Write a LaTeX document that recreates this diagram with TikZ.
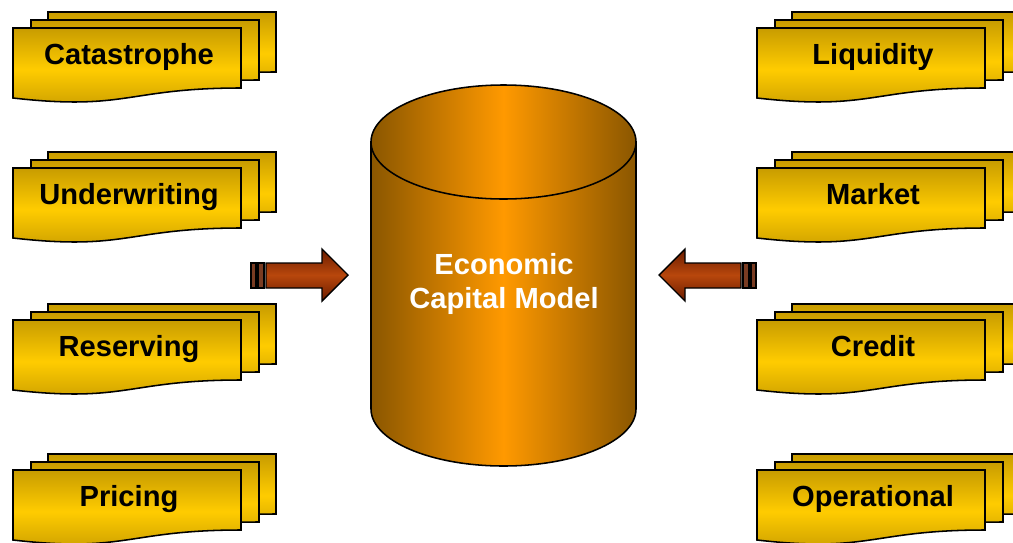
\documentclass[tikz,border=0pt]{standalone}
\usepackage{fontspec}
\setmainfont{Liberation Sans}
\definecolor{docgold}{HTML}{FFCC00}
\definecolor{docdark}{HTML}{C89C00}
\definecolor{cylorange}{HTML}{FF9900}
\definecolor{cylbrown}{HTML}{8A5600}
\definecolor{arrowrust}{HTML}{B8470C}
\definecolor{arrowdark}{HTML}{6A1C00}
\definecolor{barbrown}{HTML}{7A3C22}
\tikzset{
  docfill/.style={draw=black, line width=1.1pt, top color=docdark, bottom color=docdark, middle color=docgold},
  cylfill/.style={draw=black, line width=1.1pt, left color=cylbrown, right color=cylbrown, middle color=cylorange},
  arrowfill/.style={draw=black, line width=1pt, top color=arrowdark, bottom color=arrowdark, middle color=arrowrust},
  barfill/.style={draw=black, line width=1pt, fill=barbrown},
  risklabel/.style={font=\fontsize{20.7}{24}\selectfont\bfseries, anchor=base},
  ecmlabel/.style={font=\fontsize{20.7}{24.2}\selectfont\bfseries, text=white, align=center}
}
% one paper of the stack, top left corner at (#1,#2)
\newcommand{\riskpaper}[2]{
  \draw[docfill] (#1,#2) -- ({#1+228},#2) -- ({#1+228},{#2+60})
    .. controls ({#1+114},{#2+60}) and ({#1+114},{#2+83}) .. (#1,{#2+70}) -- cycle;
}
\begin{document}
\begin{tikzpicture}[x=0.025cm,y=-0.025cm]
\useasboundingbox (0,0) rectangle (1013,542);
\clip (0,0) rectangle (1013,542);

% stacks of papers
\foreach \x/\y/\name/\txt in {13/28/cat/Catastrophe, 13/168/uwr/Underwriting,
    13/320/res/Reserving, 13/470/pri/Pricing, 757/28/liq/Liquidity,
    757/168/mkt/Market, 757/320/cre/Credit, 757/470/ops/Operational}{
  \riskpaper{\x+35}{\y-16}
  \riskpaper{\x+18}{\y-8}
  \riskpaper{\x}{\y}
  \node[risklabel] (\name) at ({\x+116},{\y+36.5}) {\txt};
}

% the model
\draw[cylfill] (371,142) -- (371,409) arc[start angle=180, end angle=0, x radius=132.5, y radius=57] -- (636,142) -- cycle;
\draw[cylfill] (503.5,142) ellipse [x radius=132.5, y radius=57];
\node[ecmlabel] (ecm) at (504,284) {Economic\\Capital Model};

% block arrows
\draw[barfill] (251,263) rectangle (256,288);
\draw[barfill] (258,263) rectangle (264,288);
\draw[arrowfill] (266,263) -- (322,263) -- (322,249) -- (348,275) -- (322,301) -- (322,288) -- (266,288) -- cycle;

\draw[barfill] (756,263) rectangle (751,288);
\draw[barfill] (749,263) rectangle (743,288);
\draw[arrowfill] (741,263) -- (685,263) -- (685,249) -- (659,275) -- (685,301) -- (685,288) -- (741,288) -- cycle;

\end{tikzpicture}
\end{document}
